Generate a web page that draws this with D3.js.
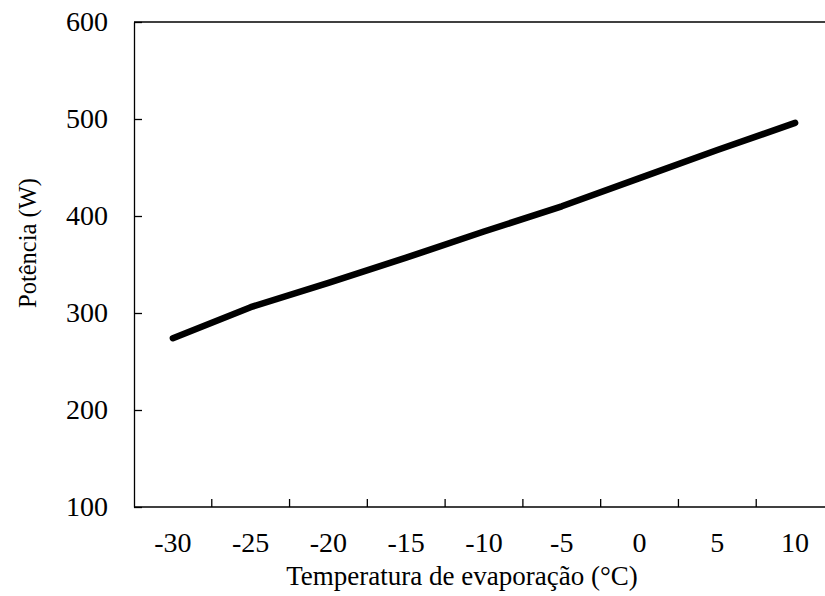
<!DOCTYPE html>
<html>
<head>
<meta charset="utf-8">
<script src="https://cdn.jsdelivr.net/npm/d3@7"></script>
<style>
  html, body { margin: 0; padding: 0; background: #fff; }
  svg { display: block; font-family: "Liberation Serif", "Times New Roman", serif; }
</style>
</head>
<body>
<svg id="chart" width="825" height="596"></svg>
<script>
// Evaporating temperature categories (°C) and compressor power (W)
const temperatures = [-30, -25, -20, -15, -10, -5, 0, 5, 10];
const power = [274, 306, 331, 357, 384, 410, 439, 468, 496];
const yTicks = [100, 200, 300, 400, 500, 600];

const svg = d3.select("#chart");
const plotLeft = 134, plotRight = 834, plotTop = 22, plotBottom = 507;
const serif = "Liberation Serif";

const x = d3.scaleBand().domain(temperatures).range([plotLeft, plotRight]).padding(0);
const y = d3.scaleLinear().domain([100, 600]).range([plotBottom, plotTop]);

const black = "#000";

// Top frame line
svg.append("line")
  .attr("x1", plotLeft).attr("x2", plotRight)
  .attr("y1", plotTop).attr("y2", plotTop)
  .attr("stroke", black).attr("stroke-width", 1.3);

// Y axis
const yAxis = svg.append("g")
  .attr("transform", `translate(${plotLeft},0)`)
  .call(d3.axisLeft(y).tickValues(yTicks).tickSizeInner(-8).tickSizeOuter(0).tickPadding(26))
  .attr("font-family", serif).attr("font-size", 28);
yAxis.select(".domain").attr("stroke", black).attr("stroke-width", 1.3);
yAxis.selectAll(".tick line").attr("stroke", black).attr("stroke-width", 1.3);
yAxis.selectAll(".tick text").attr("fill", black);

// X axis: tick marks at category boundaries, labels centred in each category
const boundaries = temperatures.slice(1).map(t => x(t));
svg.append("line")
  .attr("x1", plotLeft).attr("x2", plotRight)
  .attr("y1", plotBottom).attr("y2", plotBottom)
  .attr("stroke", black).attr("stroke-width", 1.3);
svg.append("g").selectAll("line")
  .data(boundaries)
  .join("line")
  .attr("x1", d => d).attr("x2", d => d)
  .attr("y1", plotBottom).attr("y2", plotBottom - 8)
  .attr("stroke", black).attr("stroke-width", 1.3);
svg.append("g")
  .attr("font-family", serif).attr("font-size", 28)
  .selectAll("text")
  .data(temperatures)
  .join("text")
  .attr("x", d => x(d) + x.bandwidth() / 2)
  .attr("y", 552)
  .attr("text-anchor", "middle")
  .attr("fill", black)
  .text(d => d);

// Power curve
const line = d3.line()
  .x((d, i) => x(temperatures[i]) + x.bandwidth() / 2)
  .y(d => y(d));
svg.append("path")
  .datum(power)
  .attr("d", line)
  .attr("fill", "none")
  .attr("stroke", black)
  .attr("stroke-width", 6.5)
  .attr("stroke-linecap", "round")
  .attr("stroke-linejoin", "round");

// Axis titles
svg.append("text")
  .attr("x", 462).attr("y", 585)
  .attr("text-anchor", "middle")
  .attr("font-family", serif)
  .attr("font-size", 27)
  .attr("fill", black)
  .text("Temperatura de evaporação (°C)");

svg.append("text")
  .attr("transform", "translate(36,243) rotate(-90)")
  .attr("text-anchor", "middle")
  .attr("font-family", serif)
  .attr("font-size", 24.5)
  .attr("fill", black)
  .text("Potência (W)");
</script>
</body>
</html>
